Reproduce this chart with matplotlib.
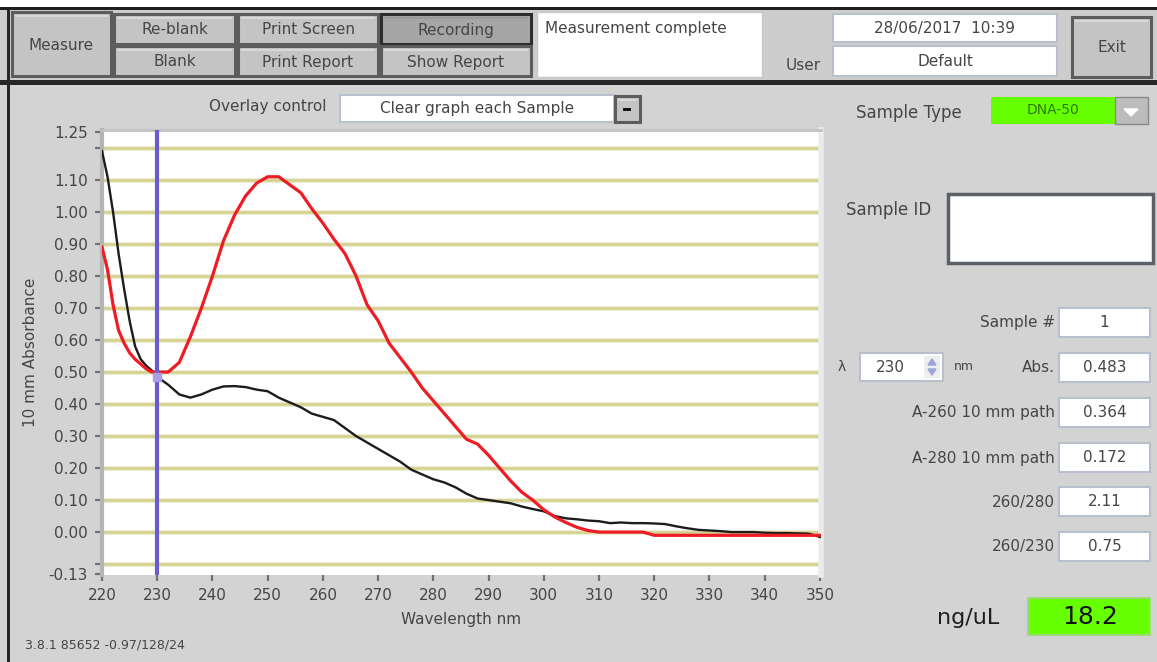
import matplotlib
matplotlib.use('Agg')
import matplotlib.pyplot as plt
from matplotlib.patches import Rectangle

# spectrum (nm / absorbance, 10 mm path)
wavelength = [220, 221, 222, 223, 224, 225, 226, 227, 228, 229, 230,
              232, 234, 236, 238, 240, 242, 244, 246, 248, 250,
              252, 254, 256, 258, 260, 262, 264, 266, 268, 270,
              272, 274, 276, 278, 280, 282, 284, 286, 288, 290,
              292, 294, 296, 298, 300, 302, 304, 306, 308, 310,
              312, 314, 316, 318, 320, 322, 324, 326, 328, 330,
              332, 334, 336, 338, 340, 342, 344, 346, 348, 350]
sample = [0.89, 0.82, 0.71, 0.63, 0.59, 0.56, 0.54, 0.525, 0.51, 0.50, 0.50,
          0.50, 0.53, 0.61, 0.70, 0.80, 0.91, 0.99, 1.05, 1.09, 1.11,
          1.11, 1.085, 1.06, 1.01, 0.965, 0.915, 0.87, 0.80, 0.71, 0.66,
          0.59, 0.545, 0.50, 0.45, 0.41, 0.37, 0.33, 0.29, 0.275, 0.24,
          0.20, 0.16, 0.125, 0.10, 0.07, 0.047, 0.03, 0.015, 0.005, 0.0,
          0.0, 0.0, 0.0, 0.0, -0.01, -0.01, -0.01, -0.01, -0.01, -0.01,
          -0.01, -0.01, -0.01, -0.01, -0.01, -0.01, -0.01, -0.01, -0.01, -0.01]
blank = [1.19, 1.11, 1.00, 0.87, 0.76, 0.66, 0.58, 0.54, 0.52, 0.505, 0.485,
         0.46, 0.43, 0.42, 0.43, 0.445, 0.455, 0.456, 0.453, 0.445, 0.44,
         0.42, 0.405, 0.39, 0.37, 0.36, 0.35, 0.325, 0.30, 0.28, 0.26,
         0.24, 0.22, 0.195, 0.18, 0.165, 0.155, 0.14, 0.12, 0.105, 0.10,
         0.095, 0.09, 0.08, 0.072, 0.065, 0.05, 0.043, 0.04, 0.036, 0.034,
         0.028, 0.03, 0.028, 0.028, 0.027, 0.025, 0.018, 0.012, 0.007, 0.005,
         0.003, 0.0, 0.0, 0.0, -0.002, -0.003, -0.003, -0.004, -0.005, -0.015]
cursor_nm = 230
cursor_abs = 0.485

x_ticks = list(range(220, 351, 10))
y_ticks = [1.25, 1.20, 1.10, 1.00, 0.90, 0.80, 0.70, 0.60, 0.50, 0.40,
           0.30, 0.20, 0.10, 0.00, -0.10, -0.13]
y_labels = ['1.25', '', '1.10', '1.00', '0.90', '0.80', '0.70', '0.60', '0.50',
            '0.40', '0.30', '0.20', '0.10', '0.00', '', '-0.13']
grid_levels = [1.20, 1.10, 1.00, 0.90, 0.80, 0.70, 0.60, 0.50, 0.40,
               0.30, 0.20, 0.10, 0.00, -0.10]

results = [('Sample #', '1'), ('Abs.', '0.483'), ('A-260 10 mm path', '0.364'),
           ('A-280 10 mm path', '0.172'), ('260/280', '2.11'), ('260/230', '0.75')]
concentration = '18.2'

W, H = 1157, 662
TXT = '#454545'
fig = plt.figure(figsize=(W / 100, H / 100), dpi=100)
fig.patch.set_facecolor('#d3d3d3')

# window chrome drawn in pixel coordinates
ui = fig.add_axes([0, 0, 1, 1])
ui.set_xlim(0, W)
ui.set_ylim(H, 0)
ui.axis('off')


def rect(x0, y0, x1, y1, fc, ec='none', lw=0):
    ui.add_patch(Rectangle((x0, y0), x1 - x0, y1 - y0, facecolor=fc,
                           edgecolor=ec, linewidth=lw))


def label(x, y, s, ha='center', size=11, color=TXT, **kw):
    ui.text(x, y, s, ha=ha, va='center', fontsize=size, color=color, **kw)


def button(x0, y0, x1, y1, s, pressed=False):
    rect(x0, y0, x1, y1, '#a6a6a6' if pressed else '#c4c4c4',
         '#2e2e2e' if pressed else '#5c5c5c', 2.2)
    rect(x0 + 3, y0 + 3, x1 - 3, y0 + 5, '#d8d8d8' if not pressed else '#9a9a9a')
    label((x0 + x1) / 2, (y0 + y1) / 2 + 1, s)


def field(x0, y0, x1, y1, s='', ha='center'):
    rect(x0, y0, x1, y1, 'white', '#b9bfcc', 1.5)
    if s:
        label((x0 + x1) / 2 if ha == 'center' else x0 + 8, (y0 + y1) / 2, s, ha=ha)


rect(0, 0, W, 7, 'white')
rect(0, 7, W, 10, '#1e1e1e')
rect(0, 10, W, 80, '#cdcdcd')
rect(0, 80, W, 85, '#262626')
rect(7, 10, 10, H, '#262626')

button(12, 12, 111, 76, 'Measure')
button(114, 14, 235, 44, 'Re-blank')
button(114, 46, 235, 76, 'Blank')
button(238, 14, 378, 44, 'Print Screen')
button(238, 46, 378, 76, 'Print Report')
button(381, 14, 531, 44, 'Recording', pressed=True)
button(381, 46, 531, 76, 'Show Report')
rect(537, 12, 762, 77, 'white', '#c8c8c8', 1)
label(545, 29, 'Measurement complete', ha='left')
label(803, 66, 'User')
field(833, 14, 1057, 42, '28/06/2017  10:39')
field(833, 46, 1057, 76, 'Default')
button(1072, 17, 1151, 77, 'Exit')

# overlay selector
label(268, 107, 'Overlay control')
field(340, 95, 614, 122, 'Clear graph each Sample')
button(615, 96, 640, 122, '')
rect(623, 108, 631, 111, '#111111')

# right hand panel
label(909, 113, 'Sample Type', size=12)
rect(991, 97, 1115, 124, '#66ff00')
label(1053, 110, 'DNA-50', color='#2c7a00', size=10)
rect(1115, 97, 1148, 124, '#bcbcbc', '#8a8a8a', 1)
ui.fill([1124, 1138, 1131], [109, 109, 116], color='white')
label(889, 210, 'Sample ID', size=12)
rect(948, 194, 1153, 263, 'white', '#5c6068', 2.5)

rows_y = [323, 368, 413, 458, 502, 547]
for (name, val), yc in zip(results, rows_y):
    label(1055, yc, name, ha='right')
    field(1059, yc - 15, 1150, yc + 14, val)
label(842, 367, 'λ', size=10)
field(860, 353, 943, 381, '')
label(890, 367, '230')
rect(924, 356, 940, 378, '#eeeeee')
ui.fill([928, 936, 932], [365, 365, 359], color='#9aa6d6')
ui.fill([928, 936, 932], [369, 369, 375], color='#9aa6d6')
label(964, 367, 'nm', size=9)

label(968, 618, 'ng/uL', size=16, color='#1e1e1e')
rect(1028, 598, 1150, 635, '#66ff00', '#9fd97a', 1.5)
label(1090, 617, concentration, size=18, color='#111111')
label(25, 645, '3.8.1 85652 -0.97/128/24', ha='left', size=9)

# spectrum graph
ax = fig.add_axes([102 / W, 1 - 575 / H, (821 - 102) / W, (575 - 130) / H])
ax.set_facecolor('white')
ax.set_xlim(220, 350.2)
ax.set_ylim(-0.134, 1.256)
for lev in grid_levels:
    ax.axhline(lev, color='#eeedd2', lw=3.6, zorder=1)
    ax.axhline(lev, color='#d3d08e', lw=1.8, zorder=1)
ax.plot(wavelength, blank, color='#1c1c1c', lw=1.7, zorder=3)
ax.plot(wavelength, sample, color='#ee1c24', lw=2.3, zorder=3)
ax.axvline(cursor_nm, color='#6b5bd0', lw=3, zorder=4)
ax.plot([cursor_nm], [cursor_abs], marker='s', ms=6, color='#a79ee6', zorder=5)

ax.set_xticks(x_ticks)
ax.set_yticks(y_ticks)
ax.set_yticklabels(y_labels)
ax.tick_params(axis='y', length=5, width=1.6, color='#707070', pad=5,
               labelsize=11, labelcolor=TXT)
ax.tick_params(axis='x', length=4, width=1.6, color='#707070', pad=5,
               labelsize=11, labelcolor=TXT)
for side in ['bottom']:
    ax.spines[side].set_visible(False)
ax.spines['left'].set_color('#b4b4b4')
ax.spines['left'].set_linewidth(3)
ax.spines['top'].set_color('#c2c2c2')
ax.spines['top'].set_linewidth(2)
ax.spines['right'].set_color('#ececec')
ax.spines['right'].set_linewidth(4)

ax.set_xlabel('Wavelength nm', fontsize=11, color=TXT)
ax.xaxis.set_label_coords(0.5, -0.083)
ax.set_ylabel('10 mm Absorbance', fontsize=11, color=TXT)
ax.yaxis.set_label_coords(-0.089, 0.5)

fig.savefig('out.png', dpi=100, facecolor=fig.get_facecolor())
